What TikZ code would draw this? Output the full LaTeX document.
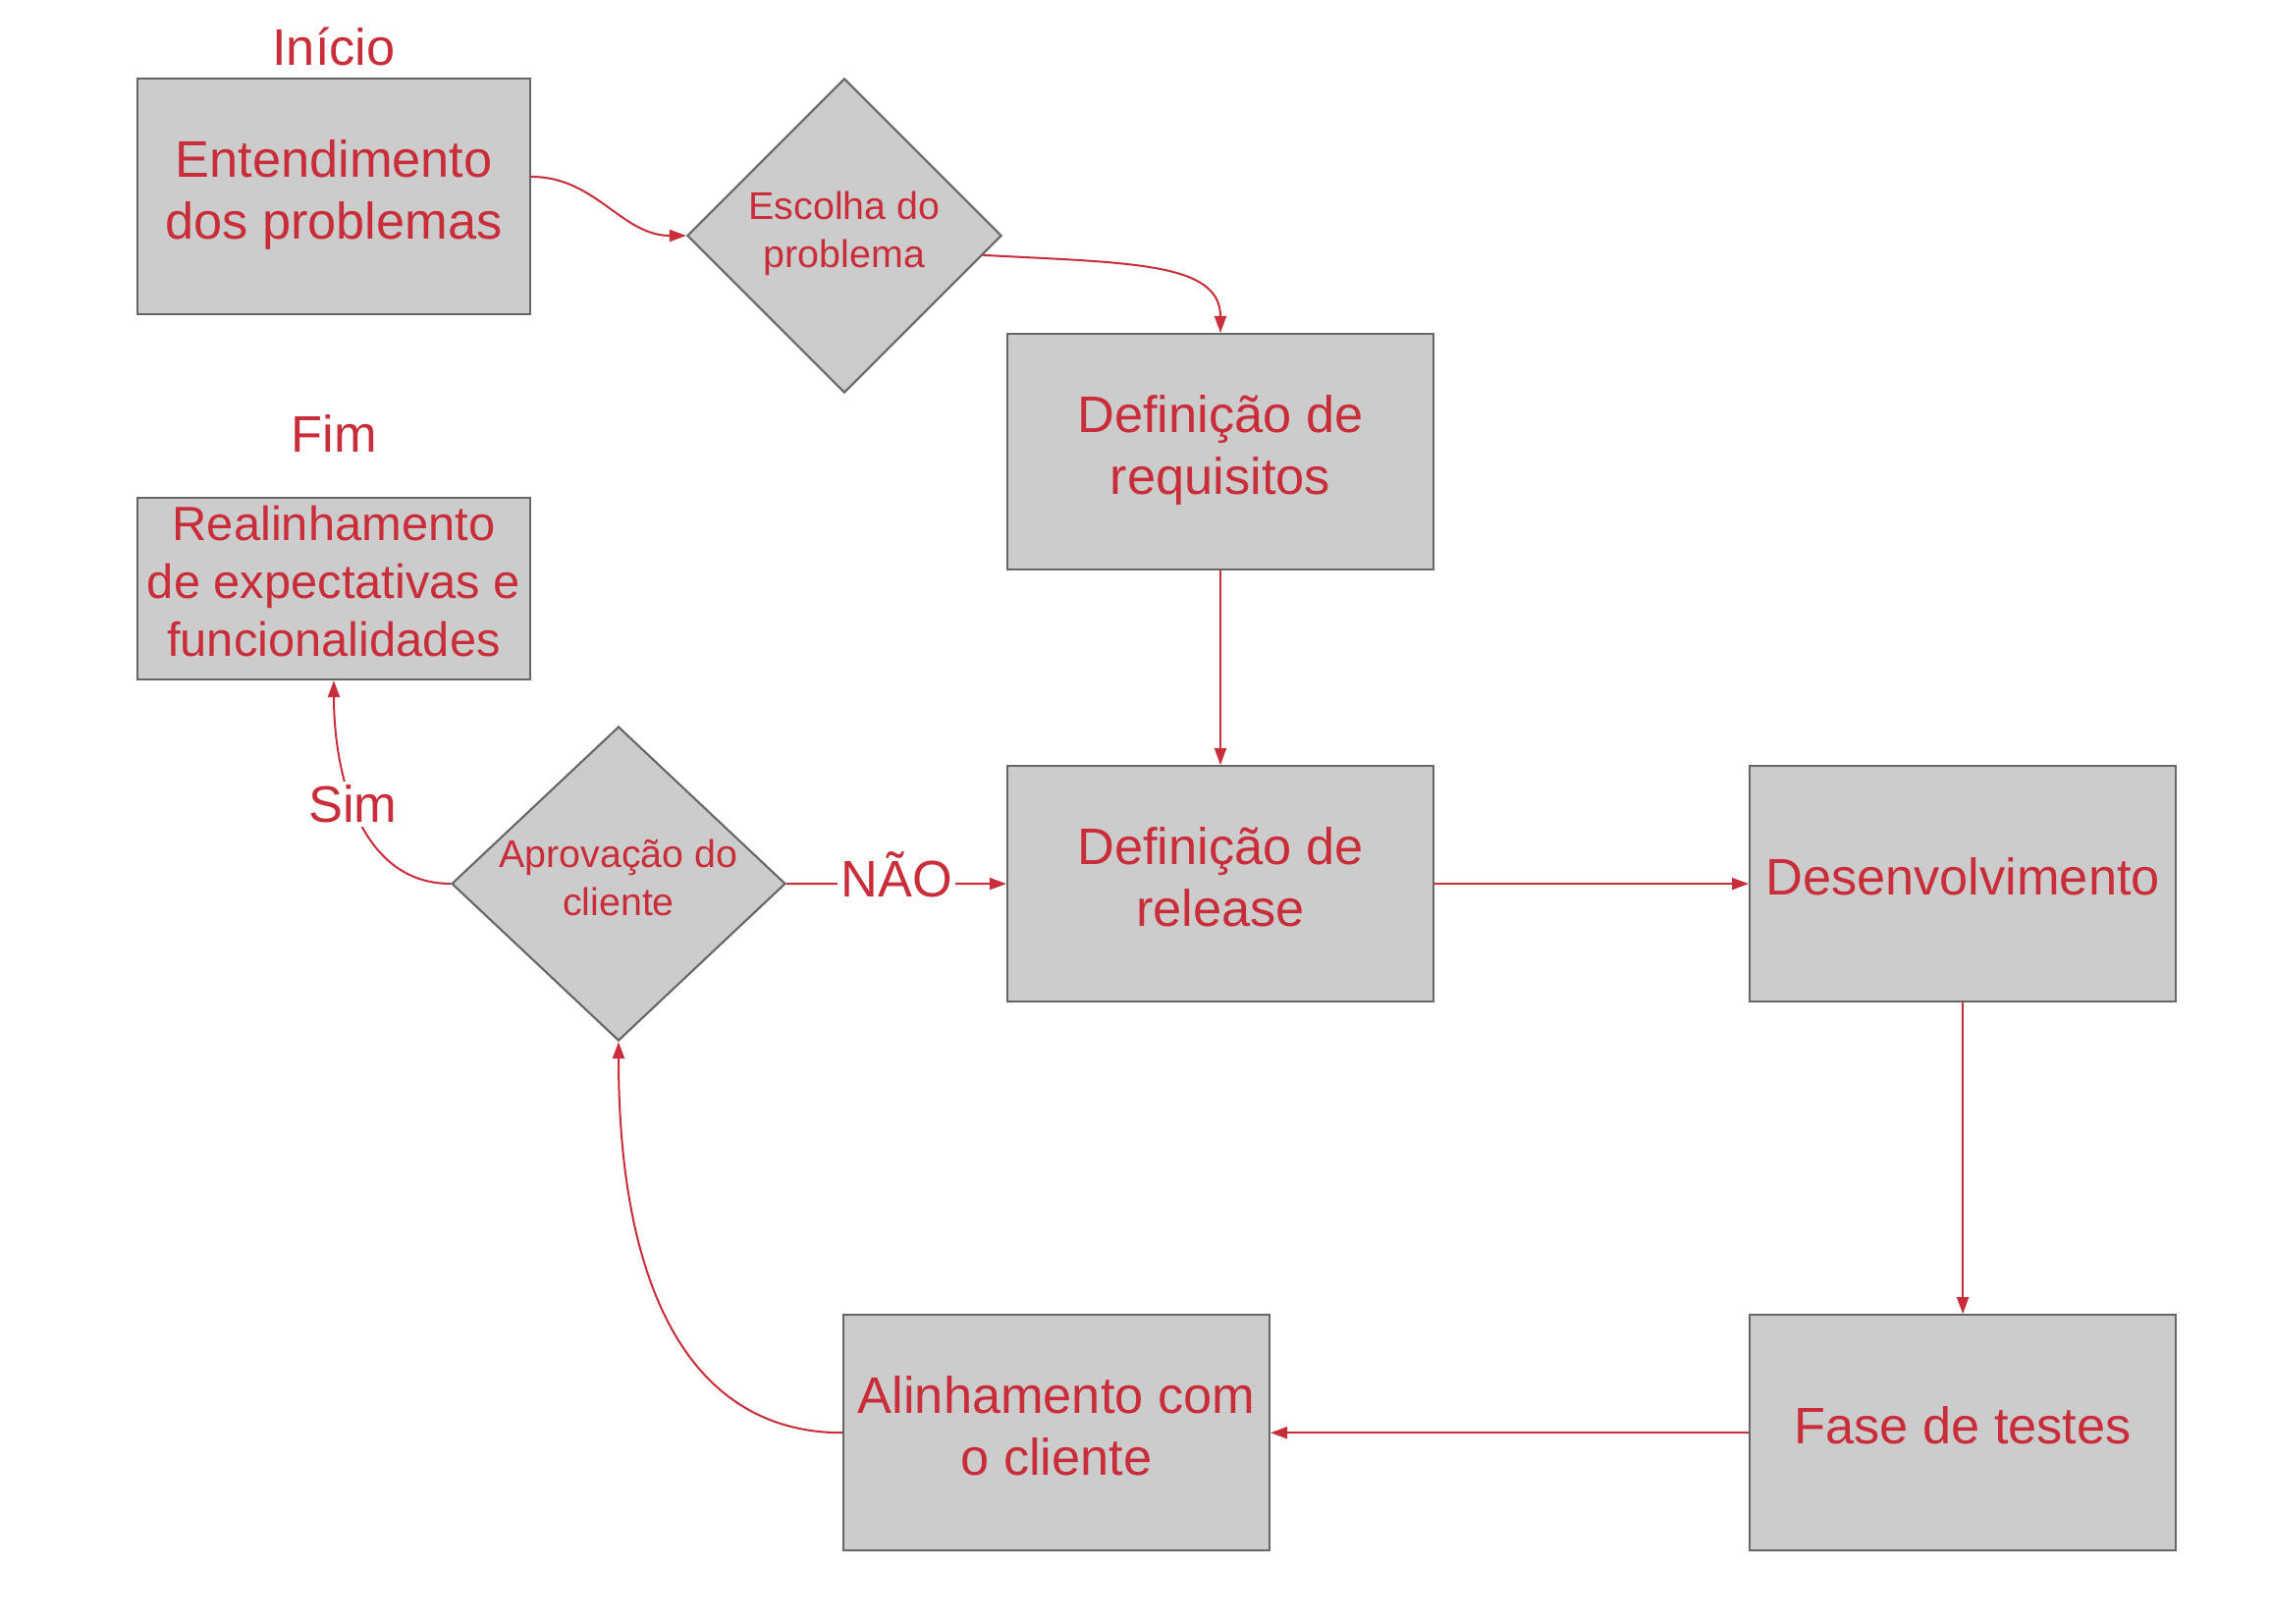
\documentclass[tikz,border=0pt]{standalone}
\usepackage{fontspec}
\setmainfont{Liberation Sans}
\usetikzlibrary{arrows.meta, positioning, shapes.geometric}
\definecolor{lcRed}{HTML}{C92D39}
\definecolor{lcFill}{HTML}{CCCCCC}
\definecolor{lcLine}{HTML}{666666}

\begin{document}
\begin{tikzpicture}[
  proc/.style={draw=lcLine, line width=0.6pt, fill=lcFill, minimum width=4.34cm, minimum height=2.4cm, inner sep=2pt, text depth=4.2pt, align=center, text=lcRed, font=\fontsize{14.9}{17.9}\selectfont},
  dec/.style={diamond, draw=lcLine, line width=0.6pt, fill=lcFill, inner sep=0pt, text depth=3.5pt, align=center, text=lcRed, font=\fontsize{11.2}{13.9}\selectfont},
  arr/.style={-{Triangle[length=1.7mm, width=1.2mm]}, draw=lcRed, line width=0.57pt},
  lbl/.style={text=lcRed, font=\fontsize{14.9}{17.9}\selectfont, inner sep=1pt},
  cut/.style={lbl, fill=white}
]
\path[use as bounding box, fill=white] (0,0) rectangle (23.12,-16.54);

\node[proc, minimum width=4cm] (ent) at (3.4,-2.0) {Entendimento\\dos problemas};
\node[lbl, anchor=base] (ini) at (3.4,-0.67) {Início};
\node[dec, minimum width=3.2cm, minimum height=3.2cm] (esc) at (8.6,-2.4) {Escolha do\\problema};
\node[proc] (req) at (12.43,-4.6) {Definição de\\requisitos};
\node[proc, below=1.98cm of req] (rel) {Definição de\\release};
\node[proc, right=3.2cm of rel] (dev) {Desenvolvimento};
\node[proc, below=3.17cm of dev] (tst) {Fase de testes};
\node[proc, left=4.87cm of tst] (ali) {Alinhamento com\\o cliente};
\node[dec, aspect=1.0625, minimum width=3.4cm, minimum height=3.2cm] (apr) at (6.3,-9.0) {Aprovação do\\cliente};
\node[proc, minimum width=4cm, minimum height=1.85cm, inner ysep=0pt, font=\fontsize{13.9}{16.8}\selectfont] (rea) at (3.4,-5.995) {Realinhamento\\de expectativas e\\funcionalidades};
\node[lbl, anchor=base] (fim) at (3.4,-4.605) {Fim};

\draw[arr] ([yshift=0.2cm]ent.east) to[out=0, in=180] (esc.west);
\draw[arr] (esc.-8) .. controls +(1.5,-0.08) and +(0,0.72) .. (req.north);
\foreach \a/\b in {req/rel, rel/dev, dev/tst, tst/ali}
  \draw[arr] (\a) -- (\b);
\draw[arr] (ali.west) .. controls +(-1.5,0) and +(0,-2.6) .. (apr.south);
\draw[arr] (apr.west) to[out=180, in=-90] node[cut, pos=0.55] {Sim} (rea.south);
\draw[arr] (apr.east) -- node[cut, yshift=2.7pt] {NÃO} (rel.west);
\end{tikzpicture}
\end{document}
